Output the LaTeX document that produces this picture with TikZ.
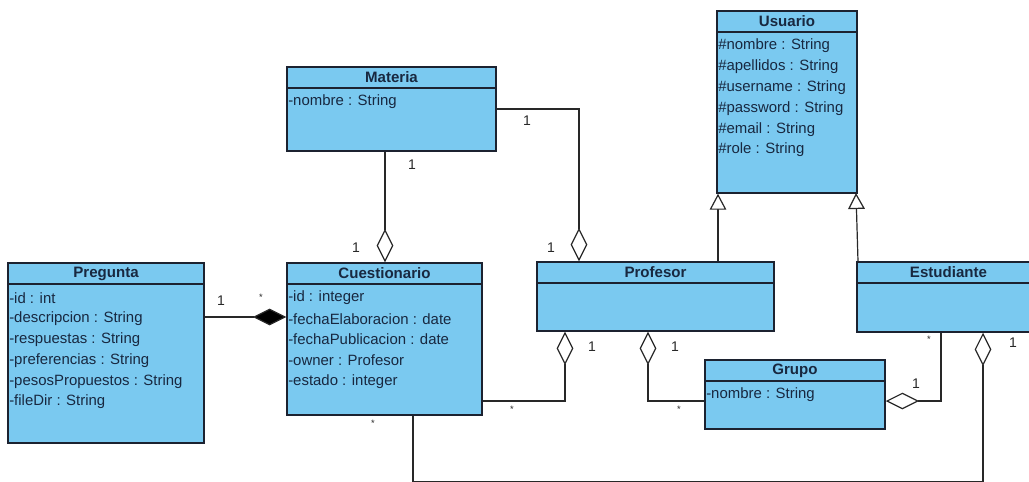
\documentclass[tikz,border=0pt]{standalone}
\usepackage{fontspec}
\setmainfont{Liberation Sans}
\usetikzlibrary{arrows.meta,fit}

\definecolor{classfill}{RGB}{122,201,240}
\definecolor{classedge}{RGB}{28,34,48}
\definecolor{classtext}{RGB}{24,40,64}
\definecolor{linkcol}{RGB}{40,40,40}

\tikzset{
  classbox/.style={draw=classedge, fill=classfill, line width=1.1pt, inner sep=0pt},
  headline/.style={draw=classedge, line width=1pt},
  classtitle/.style={font=\fontsize{11.3}{13}\selectfont\bfseries, text=classtext, inner sep=0pt},
  attr/.style={font=\fontsize{11.2}{13}\selectfont, text=classtext, inner sep=0pt, anchor=west},
  link/.style={draw=linkcol, line width=0.9pt},
  mult/.style={font=\fontsize{10.5}{12}\selectfont, text=linkcol, inner sep=0pt},
  star/.style={font=\fontsize{7}{8}\selectfont, text=linkcol, inner sep=0pt},
  aggr/.style={-{Diamond[open, fill=white, length=25pt, width=12.5pt, line width=0.9pt]}},
  compo/.style={-{Diamond[fill=black, length=25pt, width=12.5pt]}},
  gener/.style={-{Triangle[open, fill=white, length=12pt, width=12.5pt, line width=0.9pt]}},
}

% \umlclass{name}{left}{top}{right}{bottom}{title}{attribute list}
\newcommand{\umlclass}[7]{%
  \node[classbox, fit={(#2,#3) (#4,#5)}] (#1) {};
  \draw[headline] (#2,{#3+21}) -- (#4,{#3+21});
  \node[classtitle] (#1-title) at ({(#2+#4)/2},{#3+10.5}) {#6};
  \foreach \a [count=\i from 0] in {#7} {
    \node[attr] (#1-a\i) at ({#2+1},{#3+35+20.8*\i}) {\a};
  }
}

\begin{document}
\begin{tikzpicture}[x=0.75pt, y=-0.75pt]
  \useasboundingbox (0,0) rectangle (1029,482);

  % classes
  \umlclass{usuario}{717}{11}{857}{193}{Usuario}{%
    \#nombre : String, \#apellidos : String, \#username : String,
    \#password : String, \#email : String, \#role : String}
  \umlclass{materia}{287}{67}{496}{151}{Materia}{-nombre : String}
  \umlclass{pregunta}{8}{263}{204}{443}{Pregunta}{%
    -id : int, -descripcion : String, -respuestas : String,
    -preferencias : String, -pesosPropuestos : String, -fileDir : String}
  \umlclass{cuest}{287}{263}{482}{415}{Cuestionario}{%
    -id : integer, -fechaElaboracion : date, -fechaPublicacion : date,
    -owner : Profesor, -estado : integer}
  \umlclass{profesor}{537}{262}{774}{331}{Profesor}{}
  \umlclass{estudiante}{857}{262}{1040}{332}{Estudiante}{}
  \umlclass{grupo}{705}{360}{885}{429}{Grupo}{-nombre : String}

  % free bends of the connectors
  \coordinate (bendA) at (579,109);
  \coordinate (bendB) at (565,401);
  \coordinate (bendC) at (648,401);
  \coordinate (bendD) at (941,401);
  \coordinate (bendE1) at (413,482);
  \coordinate (bendE2) at (983,482);

  % Materia -- Cuestionario
  \draw[link, aggr] (materia.south -| 385,0) -- (cuest.north -| 385,0);
  \node[mult] (m1) at (412,165) {1};
  \node[mult] (m2) at (356,248) {1};

  % Materia -- Profesor
  \draw[link, aggr] (materia.east |- 0,109) -- (bendA) -- (profesor.north -| bendA);
  \node[mult] (m3) at (527,121) {1};
  \node[mult] (m4) at (551,248) {1};

  % Pregunta -- Cuestionario (composition)
  \draw[link, compo] (pregunta.east |- 0,317) -- (cuest.west |- 0,317);
  \node[mult] (m5) at (221,301) {1};
  \node[star] (m6) at (261,297) {*};

  % Cuestionario -- Profesor
  \draw[link, aggr] (cuest.east |- bendB) -- (bendB) -- (profesor.south -| bendB);
  \node[star] (m7) at (512,409) {*};
  \node[mult] (m8) at (592,347) {1};

  % Grupo -- Profesor
  \draw[link, aggr] (grupo.west |- bendC) -- (bendC) -- (profesor.south -| bendC);
  \node[star] (m9) at (679,409) {*};
  \node[mult] (m10) at (675,347) {1};

  % Estudiante -- Grupo
  \draw[link, aggr] (estudiante.south -| bendD) -- (bendD) -- (grupo.east |- bendD);
  \node[star] (m11) at (929,339) {*};
  \node[mult] (m12) at (916,384) {1};

  % Cuestionario -- Estudiante
  \draw[link, aggr] (cuest.south -| bendE1) -- (bendE1) -- (bendE2) -- (estudiante.south -| bendE2);
  \node[star] (m13) at (373,423) {*};
  \node[mult] (m14) at (1013,343) {1};

  % generalisations
  \draw[link, gener] (profesor.north -| 718,0) -- (usuario.south -| 718,0);
  \draw[link, gener] (estudiante.north -| 858,0) -- (856,193);
\end{tikzpicture}
\end{document}
